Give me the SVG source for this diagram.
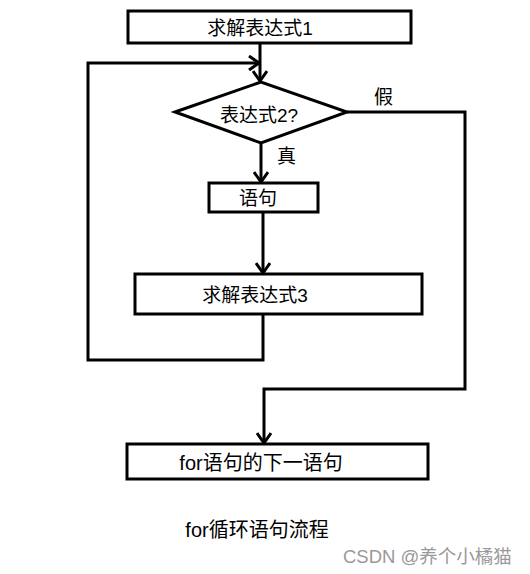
<svg xmlns="http://www.w3.org/2000/svg" width="530" height="574" viewBox="0 0 530 574">
<style>
.box{fill:#fff;stroke:#000;stroke-width:3}
.ln{fill:none;stroke:#000;stroke-width:3}
.t{font-family:"Liberation Sans","Noto Sans CJK SC",sans-serif;font-size:19px;fill:#000}
.tb{font-family:"Liberation Sans","Noto Sans CJK SC",sans-serif;font-size:20px;fill:#000}
.wm{font-family:"Liberation Sans","Noto Sans CJK SC",sans-serif;font-size:18.5px;fill:#999}
</style>
<defs>
<marker id="arr" viewBox="0 0 12 16" refX="11" refY="8" markerWidth="12" markerHeight="16" markerUnits="userSpaceOnUse" orient="auto">
<polyline points="1,1 11,8 1,15" fill="none" stroke="#000" stroke-width="3"/>
</marker>
</defs>
<rect width="530" height="574" fill="#fff"/>
<g id="connectors">
<path class="ln" d="M260,43 V81" marker-end="url(#arr)"/>
<path class="ln" d="M263,314 V360 H88 V63 H259" marker-end="url(#arr)"/>
<path class="ln" d="M261,143 V182" marker-end="url(#arr)"/>
<path class="ln" d="M263,212 V273" marker-end="url(#arr)"/>
<path class="ln" d="M347,112 H465 V389 H264 V443" marker-end="url(#arr)"/>
<text class="t" x="374" y="104">假</text>
<text class="t" x="277" y="163">真</text>
</g>
<g id="n1"><rect class="box" x="128" y="11" width="283" height="32"/><text class="t" x="260" y="35" text-anchor="middle">求解表达式1</text></g>
<g id="n2"><polygon class="box" points="175,112 261,82 347,112 261,143"/><text class="t" x="259" y="122" text-anchor="middle">表达式2?</text></g>
<g id="n3"><rect class="box" x="209" y="183" width="109" height="29"/><text class="t" x="258" y="205" text-anchor="middle">语句</text></g>
<g id="n4"><rect class="box" x="135" y="274" width="287" height="40"/><text class="t" x="255" y="302" text-anchor="middle">求解表达式3</text></g>
<g id="n5"><rect class="box" x="127" y="444" width="301" height="35"/><text class="tb" x="261" y="470" text-anchor="middle">for语句的下一语句</text></g>
<text class="tb" x="257" y="537" text-anchor="middle">for循环语句流程</text>
<text class="wm" x="343" y="563">CSDN @养个小橘猫</text>
</svg>
